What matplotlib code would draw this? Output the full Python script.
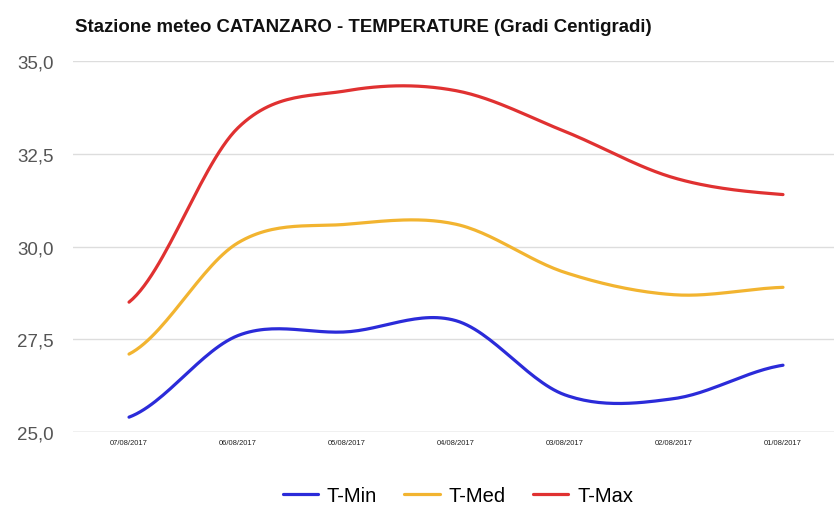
import numpy as np
import matplotlib
matplotlib.use('Agg')
import matplotlib.pyplot as plt
from matplotlib.ticker import FuncFormatter

plt.rcParams['font.family'] = ['Liberation Sans', 'DejaVu Sans']

dates = ['07/08/2017', '06/08/2017', '05/08/2017', '04/08/2017',
         '03/08/2017', '02/08/2017', '01/08/2017']
t_min = [25.4, 27.6, 27.7, 28.0, 26.0, 25.9, 26.8]
t_med = [27.1, 30.1, 30.6, 30.6, 29.3, 28.7, 28.9]
t_max = [28.5, 33.2, 34.2, 34.2, 33.1, 31.85, 31.4]

series = [('T-Min', t_min, '#2b2bd9'),
          ('T-Med', t_med, '#f2b430'),
          ('T-Max', t_max, '#e03131')]


def smooth(x, y, n=30):
    # cubic hermite through the points, tangents from neighbours
    x = np.asarray(x, float)
    y = np.asarray(y, float)
    m = np.zeros_like(y)
    m[1:-1] = (y[2:] - y[:-2]) / (x[2:] - x[:-2])
    m[0] = (y[1] - y[0]) / (x[1] - x[0]) * 0.5
    m[-1] = (y[-1] - y[-2]) / (x[-1] - x[-2]) * 0.5
    xs, ys = [], []
    for i in range(len(x) - 1):
        h = x[i + 1] - x[i]
        t = np.linspace(0, 1, n)
        h00 = 2 * t**3 - 3 * t**2 + 1
        h10 = t**3 - 2 * t**2 + t
        h01 = -2 * t**3 + 3 * t**2
        h11 = t**3 - t**2
        xs.append(x[i] + t * h)
        ys.append(h00 * y[i] + h10 * h * m[i] + h01 * y[i + 1] + h11 * h * m[i + 1])
    return np.concatenate(xs), np.concatenate(ys)


fig = plt.figure(figsize=(8.34, 5.06), dpi=100)
ax = fig.add_axes([73 / 834, 1 - 433 / 506, 761 / 834, (433 - 62) / 506])

xpos = np.arange(len(dates))
for name, vals, col in series:
    sx, sy = smooth(xpos, vals)
    ax.plot(sx, sy, color=col, lw=2.3, label=name, solid_capstyle='round')

ax.set_xlim(-0.514, 6.468)
ax.set_ylim(25, 35)
ax.set_yticks([25, 27.5, 30, 32.5, 35])
ax.yaxis.set_major_formatter(FuncFormatter(lambda v, p: f'{v:.1f}'.replace('.', ',')))
ax.set_xticks(xpos)
ax.set_xticklabels(dates, fontsize=5.5, color='#222222')
ax.tick_params(axis='y', length=0, labelsize=13.5, labelcolor='#555555', pad=14)
ax.tick_params(axis='x', length=0, pad=5)
ax.grid(axis='y', color='#dddddd', lw=1)
ax.set_axisbelow(True)
for s in ax.spines.values():
    s.set_visible(False)
ax.axhline(25, color='#cccccc', lw=1, zorder=0)

fig.text(75 / 834, 1 - 27 / 506, 'Stazione meteo CATANZARO - TEMPERATURE (Gradi Centigradi)',
         fontsize=13.4, fontweight='bold', va='center', ha='left', color='#111111')

fig.legend(loc='center', bbox_to_anchor=(0.549, 1 - 497 / 506), ncol=3, frameon=False,
           fontsize=14.5, handlelength=1.75, columnspacing=1.35, handletextpad=0.45)

fig.savefig('out.png', dpi=100)
